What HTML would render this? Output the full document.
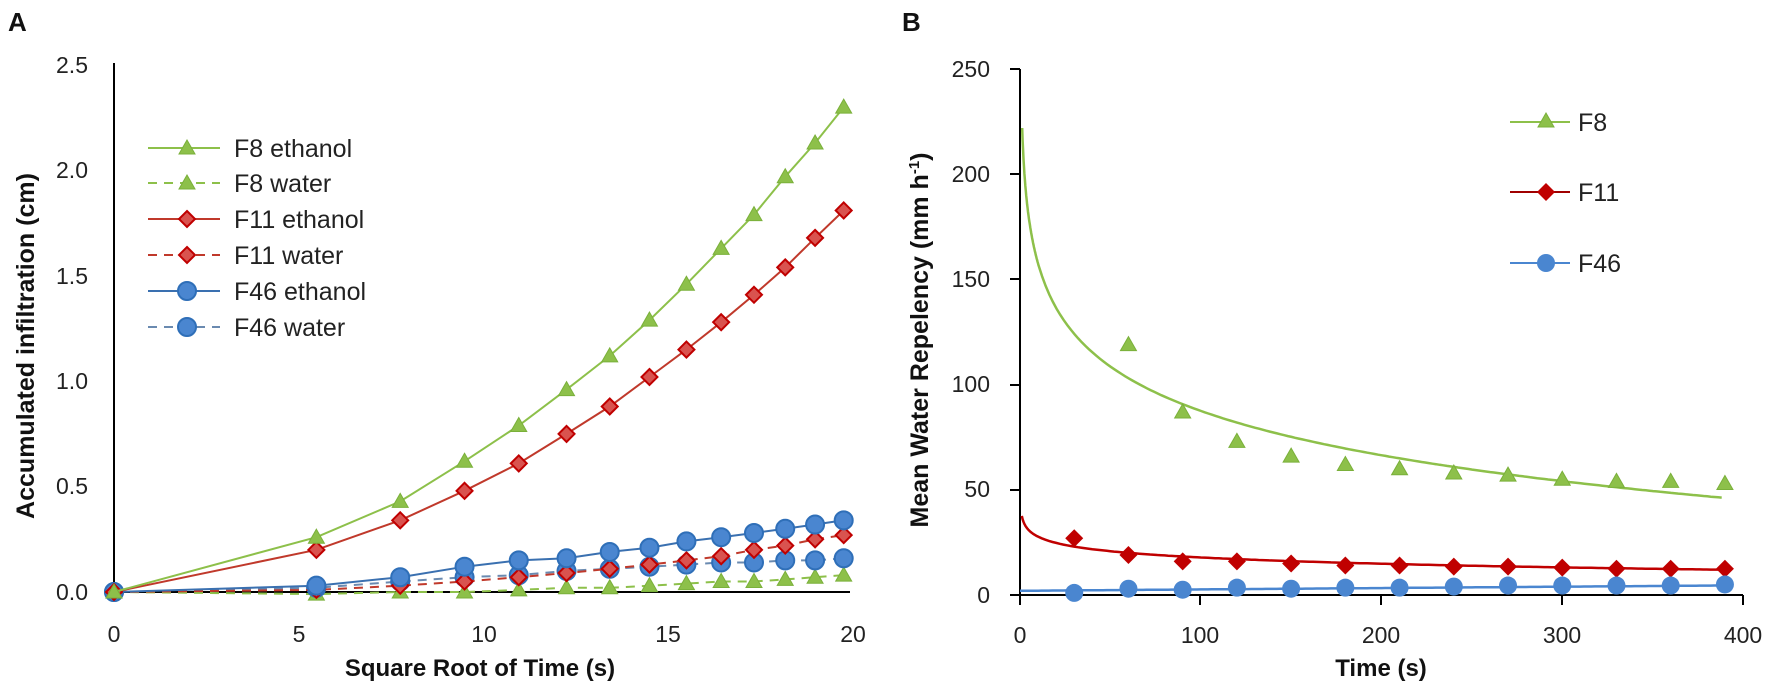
<!DOCTYPE html>
<html><head><meta charset="utf-8"><style>
html,body{margin:0;padding:0;background:#fff}
svg{display:block}
text{font-family:"Liberation Sans",sans-serif;fill:#222}
.t{font-size:23px}
.b{font-weight:bold;fill:#111}
</style></head><body>
<svg width="1772" height="689" viewBox="0 0 1772 689" xmlns="http://www.w3.org/2000/svg">
<defs>
<path id="tri" d="M0,-8 L8,6 L-8,6Z" fill="#8dc04a" stroke="#7ab03a" stroke-width="1"/>
<path id="dia" d="M0,-8 L8,0 L0,8 L-8,0Z" fill="#d9534f" stroke="#c00000" stroke-width="2"/>
<path id="diaB" d="M0,-9 L9,0 L0,9 L-9,0Z" fill="#c00000"/>
<circle id="cir" r="9" fill="#4a86d0" stroke="#2f6fb8" stroke-width="2"/>
<circle id="cirB" r="9" fill="#4a86d0"/>
</defs>
<text x="8" y="31" class="b" font-size="26">A</text>
<text x="902" y="31" class="b" font-size="26">B</text>

<!-- Chart A -->
<g class="t" text-anchor="end">
<text x="88" y="73">2.5</text><text x="88" y="178">2.0</text><text x="88" y="284">1.5</text>
<text x="88" y="389">1.0</text><text x="88" y="494">0.5</text><text x="88" y="600">0.0</text>
</g>
<g class="t" text-anchor="middle">
<text x="114" y="642">0</text><text x="299" y="642">5</text><text x="484" y="642">10</text>
<text x="668" y="642">15</text><text x="853" y="642">20</text>
</g>
<text x="480" y="676" text-anchor="middle" class="b" font-size="24">Square Root of Time (s)</text>
<text transform="translate(34,346) rotate(-90)" text-anchor="middle" class="b" font-size="25">Accumulated infiltration (cm)</text>
<line x1="114" y1="63" x2="114" y2="592" stroke="#000" stroke-width="2"/>
<line x1="114" y1="592" x2="850" y2="592" stroke="#000" stroke-width="2"/>
<g id="Aseries"></g>

<!-- Legend A -->
<g>
<line x1="148" y1="148" x2="220" y2="148" stroke="#8dc04a" stroke-width="2"/><use href="#tri" x="187" y="148"/>
<line x1="148" y1="183" x2="220" y2="183" stroke="#8dc04a" stroke-width="2" stroke-dasharray="9,7"/><use href="#tri" x="187" y="183"/>
<line x1="148" y1="219" x2="220" y2="219" stroke="#c0392b" stroke-width="2"/><use href="#dia" x="187" y="219"/>
<line x1="148" y1="255" x2="220" y2="255" stroke="#c0392b" stroke-width="2" stroke-dasharray="9,7"/><use href="#dia" x="187" y="255"/>
<line x1="148" y1="291" x2="220" y2="291" stroke="#3a70b0" stroke-width="2"/><use href="#cir" x="187" y="291"/>
<line x1="148" y1="327" x2="220" y2="327" stroke="#6a8ab0" stroke-width="2" stroke-dasharray="9,7"/><use href="#cir" x="187" y="327"/>
<g font-size="25"><text x="234" y="157">F8 ethanol</text><text x="234" y="192">F8 water</text><text x="234" y="228">F11 ethanol</text>
<text x="234" y="264">F11 water</text><text x="234" y="300">F46 ethanol</text><text x="234" y="336">F46 water</text></g>
</g>

<!-- Chart B -->
<g class="t" text-anchor="end">
<text x="990" y="77">250</text><text x="990" y="182">200</text><text x="990" y="287">150</text>
<text x="990" y="392">100</text><text x="990" y="497">50</text><text x="990" y="603">0</text>
</g>
<g class="t" text-anchor="middle">
<text x="1020" y="643">0</text><text x="1200" y="643">100</text><text x="1381" y="643">200</text>
<text x="1562" y="643">300</text><text x="1743" y="643">400</text>
</g>
<text x="1381" y="676" text-anchor="middle" class="b" font-size="24">Time (s)</text>
<text transform="translate(928,340) rotate(-90)" text-anchor="middle" class="b" font-size="25">Mean Water Repelency (mm h<tspan font-size="15" dy="-9">-1</tspan><tspan dy="9">)</tspan></text>
<g stroke="#000" stroke-width="2" fill="none">
<line x1="1020" y1="69" x2="1020" y2="595"/>
<line x1="1020" y1="595" x2="1743" y2="595"/>
<line x1="1010" y1="69" x2="1020" y2="69"/><line x1="1010" y1="174" x2="1020" y2="174"/>
<line x1="1010" y1="279" x2="1020" y2="279"/><line x1="1010" y1="385" x2="1020" y2="385"/>
<line x1="1010" y1="490" x2="1020" y2="490"/><line x1="1010" y1="595" x2="1020" y2="595"/>
<line x1="1020" y1="595" x2="1020" y2="605"/><line x1="1200" y1="595" x2="1200" y2="605"/>
<line x1="1381" y1="595" x2="1381" y2="605"/><line x1="1562" y1="595" x2="1562" y2="605"/>
<line x1="1743" y1="595" x2="1743" y2="605"/>
</g>
<g id="Bseries"></g>

<!-- Legend B -->
<line x1="1510" y1="122" x2="1570" y2="122" stroke="#8dc04a" stroke-width="2"/><use href="#tri" x="1546" y="121"/>
<line x1="1510" y1="192" x2="1570" y2="192" stroke="#a00000" stroke-width="2"/><use href="#diaB" x="1546" y="192"/>
<line x1="1510" y1="263" x2="1570" y2="263" stroke="#4a86d0" stroke-width="2"/><use href="#cirB" x="1546" y="263"/>
<g font-size="25"><text x="1578" y="131">F8</text><text x="1578" y="201">F11</text><text x="1578" y="272">F46</text></g>

<script>
(function(){
var NS="http://www.w3.org/2000/svg";
function el(p,n,a){var e=document.createElementNS(NS,n);for(var k in a)e.setAttribute(k,a[k]);p.appendChild(e);return e;}
// Chart A
var A=document.getElementById("Aseries");
var xs=[0];for(var i=1;i<=13;i++)xs.push(Math.sqrt(30*i));
function ax(v){return 114+v*36.95;} function ay(v){return 592-v*210.8;}
var S=[
 {d:[0,-0.01,0,0,0.01,0.02,0.02,0.03,0.04,0.05,0.05,0.06,0.07,0.08],c:"#8dc04a",dash:true,m:"tri"},
 {d:[0,0.02,0.05,0.07,0.08,0.1,0.11,0.12,0.13,0.14,0.14,0.15,0.15,0.16],c:"#6a8ab0",dash:true,m:"cir"},
 {d:[0,0.01,0.03,0.05,0.07,0.09,0.11,0.13,0.15,0.17,0.2,0.22,0.25,0.27],c:"#c0392b",dash:true,m:"dia"},
 {d:[0,0.03,0.07,0.12,0.15,0.16,0.19,0.21,0.24,0.26,0.28,0.3,0.32,0.34],c:"#3a70b0",dash:false,m:"cir"},
 {d:[0,0.2,0.34,0.48,0.61,0.75,0.88,1.02,1.15,1.28,1.41,1.54,1.68,1.81],c:"#c0392b",dash:false,m:"dia"},
 {d:[0,0.26,0.43,0.62,0.79,0.96,1.12,1.29,1.46,1.63,1.79,1.97,2.13,2.30],c:"#8dc04a",dash:false,m:"tri"}
];
S.forEach(function(s){
 var pts=s.d.map(function(v,i){return ax(xs[i]).toFixed(1)+","+ay(v).toFixed(1);}).join(" ");
 var a={points:pts,fill:"none",stroke:s.c,"stroke-width":2};if(s.dash)a["stroke-dasharray"]="9,7";
 el(A,"polyline",a);
 s.d.forEach(function(v,i){el(A,"use",{href:"#"+s.m,x:ax(xs[i]),y:ay(v)});});
});
// Chart B
var B=document.getElementById("Bseries");
function bx(t){return 1020+t*1.8075;} function by(v){return 595-v*2.104;}
function curve(f,c,t0){var p=[];for(var t=t0;t<=390;t+=(t<10?0.25:2))p.push(bx(t).toFixed(1)+","+by(f(t)).toFixed(1));el(B,"polyline",{points:p.join(" "),fill:"none",stroke:c,"stroke-width":2.5});}
curve(function(t){return 227.5-30.4*Math.log(t);},"#8dc04a",1.2);
curve(function(t){return 37.6-4.29*Math.log(t);},"#c00000",1);
curve(function(t){return 2+0.0065*t;},"#4a86d0",0);
var g=[119,87,73,66,62,60,58,57,55,54,54,53];
g.forEach(function(v,i){el(B,"use",{href:"#tri",x:bx(60+30*i),y:by(v)});});
var r=[27,19,16,16,15,14,14,13.5,13.5,13,12.5,12.5,12.5];
r.forEach(function(v,i){el(B,"use",{href:"#diaB",x:bx(30+30*i),y:by(v)});});
var b=[1,3,2.5,3.5,3,3.5,3.5,4,4.5,4.5,4.5,4.5,5];
b.forEach(function(v,i){el(B,"use",{href:"#cirB",x:bx(30+30*i),y:by(v)});});
})();
</script>
</svg>
</body></html>
